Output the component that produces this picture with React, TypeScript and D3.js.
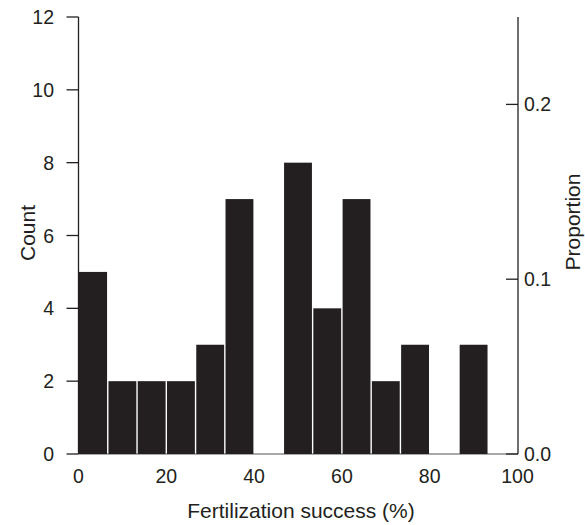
import React from "react";
import * as d3 from "d3";

const binStarts = [0, 6.667, 13.333, 20, 26.667, 33.333, 40, 46.667, 53.333, 60, 66.667, 73.333, 80, 86.667, 93.333];
const binEnds = [6.667, 13.333, 20, 26.667, 33.333, 40, 46.667, 53.333, 60, 66.667, 73.333, 80, 86.667, 93.333, 100];
const counts = [5, 2, 2, 2, 3, 7, 0, 8, 4, 7, 2, 3, 0, 3, 0];
const xTicks = [0, 20, 40, 60, 80, 100];
const countTicks = [0, 2, 4, 6, 8, 10, 12];
const propTicks = [0.0, 0.1, 0.2];
const total = 48;

const W = 585, H = 525;
const INK = "#231f20";
const FONT = "Liberation Sans, Arial, Helvetica, sans-serif";
const TICK_FS = 19.5;
const TITLE_FS = 21;

export default function App() {
  const x = d3.scaleLinear().domain([0, 100]).range([78.5, 517.5]);
  const y = d3.scaleLinear().domain([0, 12]).range([454, 17]);
  const yp = d3.scaleLinear().domain([0, 12 / total]).range([454, 17]);
  const xl = 78.5, xr = 518;

  return (
    <svg width={W} height={H} style={{ position: "absolute", left: 0, top: 0 }} fontFamily={FONT}>
      <rect width={W} height={H} fill="white" />
      {/* baseline */}
      <line x1={xl} x2={xr} y1={454} y2={454} stroke="#555" strokeWidth={1.2} />
      {counts.map((c, i) =>
        c > 0 ? (
          <rect
            key={i}
            x={x(binStarts[i]) + (i === 0 ? 0 : 0.7)}
            width={x(binEnds[i]) - x(binStarts[i]) - (i === 0 ? 0.7 : 1.4)}
            y={y(c)}
            height={y(0) - y(c)}
            fill={INK}
          />
        ) : null
      )}
      {/* left axis */}
      <line x1={xl} x2={xl} y1={y(12)} y2={y(0)} stroke={INK} strokeWidth={1.3} />
      {countTicks.map((t) => (
        <g key={t}>
          <line x1={xl - 12} x2={xl} y1={y(t)} y2={y(t)} stroke={INK} strokeWidth={1.3} />
          <text x={54} y={y(t)} dy="0.36em" textAnchor="end" fontSize={TICK_FS} fill={INK}>
            {t}
          </text>
        </g>
      ))}
      {/* right axis */}
      <line x1={xr} x2={xr} y1={y(12)} y2={y(0)} stroke={INK} strokeWidth={1.3} />
      {propTicks.map((t) => (
        <g key={t}>
          <line x1={xr - 12} x2={xr} y1={yp(t)} y2={yp(t)} stroke={INK} strokeWidth={1.3} />
          <text x={xr + 6} y={yp(t)} dy="0.36em" textAnchor="start" fontSize={TICK_FS} fill={INK}>
            {d3.format(".1f")(t)}
          </text>
        </g>
      ))}
      {/* x tick labels */}
      {xTicks.map((t) => (
        <text key={t} x={x(t)} y={483} textAnchor="middle" fontSize={TICK_FS} fill={INK}>
          {t}
        </text>
      ))}
      <text x={301} y={517.5} textAnchor="middle" fontSize={TITLE_FS} fill={INK}>
        Fertilization success (%)
      </text>
      <text transform={`translate(35,233) rotate(-90)`} textAnchor="middle" fontSize={TITLE_FS} fill={INK}>
        Count
      </text>
      <text transform={`translate(580,222) rotate(-90)`} textAnchor="middle" fontSize={TITLE_FS} fill={INK}>
        Proportion
      </text>
    </svg>
  );
}
